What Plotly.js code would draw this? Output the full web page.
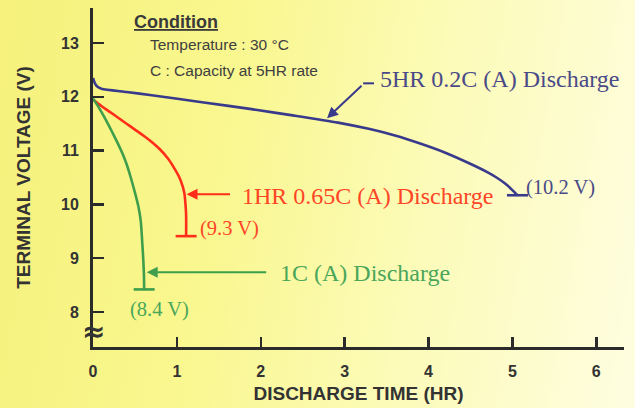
<!DOCTYPE html>
<html>
<head>
<meta charset="utf-8">
<script src="https://cdn.plot.ly/plotly-3.0.1.min.js"></script>
<style>
html,body{margin:0;padding:0;}
body{width:635px;height:408px;overflow:hidden;
background:linear-gradient(100deg,#f6f17c 0%,#f9f78f 35%,#fcfbb8 65%,#fefde0 100%);}
#chart{width:635px;height:408px;}
</style>
</head>
<body>
<div id="chart"></div>
<script>
// Discharge time (HR) and terminal voltage (V)
const t5hr = [0, 0.02, 0.05, 0.1, 0.4, 0.7, 1.3, 1.89, 2.4, 2.92, 3.3, 3.6, 3.9, 4.2, 4.49, 4.7, 4.81, 4.92, 4.99, 5.04, 5.06];
const v5hr = [12.35, 12.26, 12.19, 12.15, 12.09, 12.03, 11.9, 11.77, 11.65, 11.52, 11.4, 11.28, 11.13, 10.96, 10.76, 10.6, 10.5, 10.38, 10.28, 10.2, 10.17];

const t1hr = [0, 0.1, 0.2, 0.3, 0.4, 0.5, 0.6, 0.7, 0.8, 0.9, 0.97, 1.03, 1.07, 1.09, 1.1, 1.11, 1.11];
const v1hr = [11.95, 11.83, 11.72, 11.61, 11.5, 11.39, 11.28, 11.16, 11.02, 10.84, 10.67, 10.5, 10.33, 10.2, 10.05, 9.8, 9.41];

const t1c = [0, 0.05, 0.1, 0.15, 0.2, 0.25, 0.3, 0.35, 0.4, 0.45, 0.5, 0.54, 0.57, 0.59, 0.6, 0.607, 0.61];
const v1c = [11.97, 11.85, 11.72, 11.58, 11.43, 11.28, 11.12, 10.95, 10.75, 10.5, 10.22, 9.97, 9.68, 9.22, 8.95, 8.7, 8.42];

const seriesNames = ['5HR 0.2C (A) Discharge', '1HR 0.65C (A) Discharge', '1C (A) Discharge'];
const endLabels = ['(10.2 V)', '(9.3 V)', '(8.4 V)'];
const xTicks = [0, 1, 2, 3, 4, 5, 6];
const yTicks = [8, 9, 10, 11, 12, 13];

const cBlue = '#3a3a8c', cRed = '#ff2d1a', cGreen = '#3e9e4c';
const tBlue = '#4a4a88', tRed = '#ff4526', tGreen = '#4aa65a';

function curve(x, y, c) {
  return {x: x, y: y, type: 'scatter', mode: 'lines', hoverinfo: 'skip',
    line: {color: c, width: 2.6, shape: 'spline', smoothing: 0.6}};
}
function cap(x, y, c) {
  const n = x.length - 1;
  return {x: [x[n]], y: [y[n]], type: 'scatter', mode: 'markers', hoverinfo: 'skip',
    marker: {symbol: 'line-ew', size: 15, line: {color: c, width: 2.6}}};
}

const data = [
  curve(t5hr, v5hr, cBlue), cap(t5hr, v5hr, cBlue),
  curve(t1hr, v1hr, cRed), cap(t1hr, v1hr, cRed),
  curve(t1c, v1c, cGreen), cap(t1c, v1c, cGreen)
];

const serif = 'Liberation Serif, Times New Roman, serif';
const sans = 'Liberation Sans, Arial, sans-serif';

function txt(x, y, text, color, size, anchor) {
  return {x: x, y: y, xref: 'x', yref: 'y', text: text, showarrow: false,
    xanchor: anchor || 'left', yanchor: 'middle', font: {family: serif, size: size, color: color}};
}
function arrow(x, y, ax, ay, color) {
  return {x: x, y: y, xref: 'x', yref: 'y', text: '', showarrow: true, ax: ax, ay: ay,
    arrowhead: 2, arrowsize: 1.1, arrowwidth: 2, arrowcolor: color, standoff: 0};
}

const annotations = [
  // Condition block
  {xref: 'paper', yref: 'paper', x: 0.074, y: 0.959, xanchor: 'left', yanchor: 'middle', showarrow: false,
   text: '<b><u>Condition</u></b>', font: {family: sans, size: 18, color: '#3a3a3a'}},
  {xref: 'paper', yref: 'paper', x: 0.103, y: 0.891, xanchor: 'left', yanchor: 'middle', showarrow: false,
   text: 'Temperature : 30 °C', font: {family: sans, size: 15.5, color: '#404040'}},
  {xref: 'paper', yref: 'paper', x: 0.103, y: 0.817, xanchor: 'left', yanchor: 'middle', showarrow: false,
   text: 'C : Capacity at 5HR rate', font: {family: sans, size: 15.5, color: '#404040'}},
  // series labels
  txt(3.4, 12.33, seriesNames[0], tBlue, 24),
  txt(1.75, 10.16, seriesNames[1], tRed, 24),
  txt(2.2, 8.72, seriesNames[2], tGreen, 24),
  // end voltage labels
  txt(5.14, 10.31, endLabels[0], tBlue, 20.5),
  txt(1.25, 9.56, endLabels[1], tRed, 20.5),
  txt(0.79, 8.05, endLabels[2], tGreen, 20.5, 'center'),
  // arrows
  arrow(2.79, 11.6, 36, -34, cBlue),
  arrow(1.115, 10.19, 45, 0, cRed),
  arrow(0.64, 8.74, 121, 0, cGreen),
  // axis break
  {xref: 'paper', yref: 'y', x: -0.024, y: 7.63, text: '<b>≈</b>', showarrow: false,
   font: {family: 'DejaVu Sans, sans-serif', size: 28, color: '#333333'}}
];

const shapes = [
  {type: 'line', xref: 'x', yref: 'y', x0: 3.22, x1: 3.35, y0: 12.25, y1: 12.25,
   line: {color: cBlue, width: 2}}
];

const layout = {
  width: 635, height: 408,
  margin: {l: 93, r: 11, t: 8, b: 61},
  paper_bgcolor: 'rgba(0,0,0,0)', plot_bgcolor: 'rgba(0,0,0,0)',
  showlegend: false,
  xaxis: {range: [0, 6.33], tickvals: xTicks, ticktext: xTicks.map(String),
    showgrid: false, zeroline: false, showline: true, linecolor: '#2b2b2b', linewidth: 3,
    ticks: 'inside', ticklen: 10, tickwidth: 2.5, tickcolor: '#2b2b2b',
    tickfont: {family: sans, size: 16, color: '#333333', weight: 'bold'},
    ticklabelstandoff: 8,
    title: {text: '<b>DISCHARGE TIME (HR)</b>', font: {family: sans, size: 19, color: '#333333'}, standoff: 8}},
  yaxis: {range: [7.35, 13.65], tickvals: yTicks, ticktext: yTicks.map(String),
    showgrid: false, zeroline: false, showline: true, linecolor: '#2b2b2b', linewidth: 3,
    ticks: 'inside', ticklen: 11, tickwidth: 2.5, tickcolor: '#2b2b2b',
    tickfont: {family: sans, size: 16, color: '#333333', weight: 'bold'},
    ticklabelstandoff: 8,
    title: {text: '<b>TERMINAL VOLTAGE (V)</b>', font: {family: sans, size: 19, color: '#333333'}, standoff: 26}},
  annotations: annotations,
  shapes: shapes
};

Plotly.newPlot('chart', data, layout, {staticPlot: true, displayModeBar: false});
</script>
</body>
</html>
